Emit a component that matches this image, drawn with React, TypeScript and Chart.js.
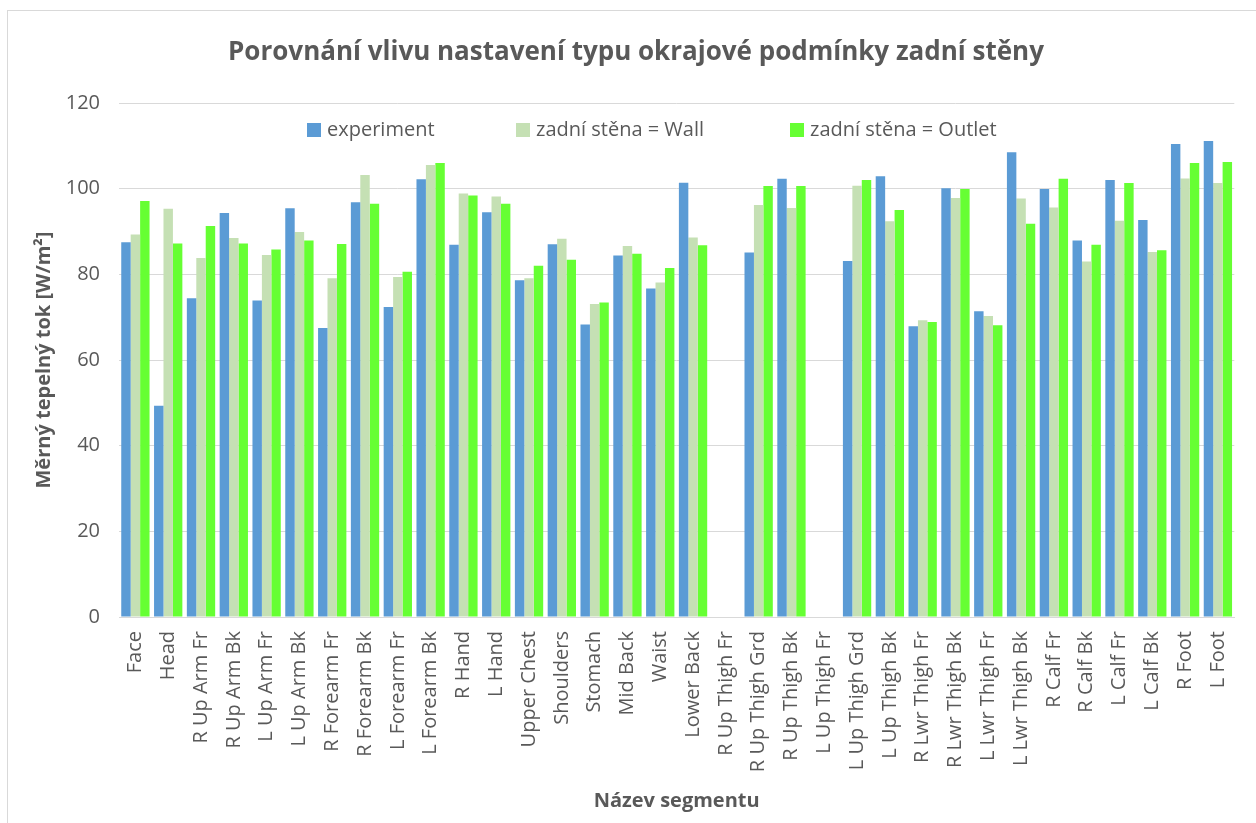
import React, { useEffect, useRef } from "react";
import { Chart, registerables } from "chart.js";

Chart.register(...registerables);

const categories = [
  "Face", "Head", "R Up Arm Fr", "R Up Arm Bk", "L Up Arm Fr", "L Up Arm Bk",
  "R Forearm Fr", "R Forearm Bk", "L Forearm Fr", "L Forearm Bk", "R Hand", "L Hand",
  "Upper Chest", "Shoulders", "Stomach", "Mid Back", "Waist", "Lower Back",
  "R Up Thigh Fr", "R Up Thigh Grd", "R Up Thigh Bk", "L Up Thigh Fr", "L Up Thigh Grd",
  "L Up Thigh Bk", "R Lwr Thigh Fr", "R Lwr Thigh Bk", "L Lwr Thigh Fr", "L Lwr Thigh Bk",
  "R Calf Fr", "R Calf Bk", "L Calf Fr", "L Calf Bk", "R Foot", "L Foot",
];

const experiment = [
  87.5, 49.3, 74.4, 94.3, 73.9, 95.4,
  67.5, 96.8, 72.4, 102.2, 86.9, 94.5,
  78.6, 87.0, 68.3, 84.4, 76.7, 101.4,
  null, 85.1, 102.3, null, 83.1,
  102.9, 67.9, 100.1, 71.4, 108.5,
  99.9, 87.9, 102.0, 92.7, 110.4, 111.1,
];

const wall = [
  89.3, 95.3, 83.8, 88.5, 84.5, 89.9,
  79.1, 103.2, 79.4, 105.5, 98.9, 98.2,
  79.1, 88.3, 73.1, 86.6, 78.1, 88.6,
  null, 96.2, 95.5, null, 100.7,
  92.4, 69.3, 97.8, 70.3, 97.7,
  95.6, 83.0, 92.5, 85.2, 102.4, 101.3,
];

const outlet = [
  97.1, 87.2, 91.3, 87.2, 85.8, 87.9,
  87.1, 96.5, 80.6, 106.0, 98.4, 96.5,
  82.0, 83.4, 73.4, 84.8, 81.5, 86.8,
  null, 100.6, 100.6, null, 102.0,
  95.0, 68.9, 99.9, 68.1, 91.8,
  102.3, 86.9, 101.3, 85.6, 106.0, 106.2,
];

const seriesLabels = ["experiment", "zadní stěna = Wall", "zadní stěna = Outlet"];
const titleText = "Porovnání vlivu nastavení typu okrajové podmínky zadní stěny";
const yTitle = "Měrný tepelný tok [W/m²]";
const xTitle = "Název segmentu";
const yMin = 0;
const yMax = 120;
const yStep = 20;

const FONT = "'Open Sans', 'DejaVu Sans', sans-serif";
const TEXT = "#595959";
const GRID = "#d9d9d9";

export default function App() {
  const ref = useRef<HTMLCanvasElement>(null);

  useEffect(() => {
    if (!ref.current) return;

    const legendX = [307, 516, 790];
    const insideLegend = {
      id: "insideLegend",
      afterDraw(chart: any) {
        const ctx = chart.ctx;
        ctx.save();
        // chart title
        ctx.font = `bold 26px ${FONT}`;
        ctx.fillStyle = TEXT;
        ctx.textAlign = "center";
        ctx.textBaseline = "middle";
        ctx.fillText(titleText, 636, 53);
        // legend inside plot area
        ctx.font = `20px ${FONT}`;
        ctx.textAlign = "left";
        const y = 130;
        chart.data.datasets.forEach((ds: any, i: number) => {
          const x = legendX[i];
          ctx.fillStyle = ds.backgroundColor;
          ctx.fillRect(x, y - 7, 14, 14);
          ctx.fillStyle = TEXT;
          ctx.fillText(ds.label, x + 20, y);
        });
        ctx.restore();
      },
    };

    const chart = new Chart(ref.current, {
      type: "bar",
      data: {
        labels: categories,
        datasets: [
          { label: seriesLabels[0], data: experiment, backgroundColor: "#5b9bd5" },
          { label: seriesLabels[1], data: wall, backgroundColor: "#c5e0b4" },
          { label: seriesLabels[2], data: outlet, backgroundColor: "#66ff33" },
        ],
      },
      options: {
        responsive: false,
        animation: false,
        devicePixelRatio: 1,
        layout: { padding: { top: 103, right: 7, bottom: 0, left: 0 } },
        datasets: {
          bar: { barPercentage: 1, categoryPercentage: 0.863, borderWidth: 0 },
        },
        plugins: {
          legend: { display: false },
          tooltip: { enabled: false },
          title: { display: false },
        },
        scales: {
          x: {
            afterFit(scale: any) {
              scale.height = 206;
            },
            grid: { display: true, drawOnChartArea: false, drawTicks: false },
            border: { display: true, color: GRID, width: 1 },
            ticks: {
              autoSkip: false,
              maxRotation: 90,
              minRotation: 90,
              padding: 14,
              color: TEXT,
              font: { family: FONT, size: 20 },
            },
            title: {
              display: true,
              text: xTitle,
              color: TEXT,
              font: { family: FONT, size: 20, weight: "bold" },
              padding: { top: 0, bottom: 10 },
            },
          },
          y: {
            min: yMin,
            max: yMax,
            afterFit(scale: any) {
              scale.width = 119;
            },
            ticks: {
              stepSize: yStep,
              padding: 19,
              color: TEXT,
              font: { family: FONT, size: 20 },
            },
            grid: { color: GRID, lineWidth: 1, drawTicks: false },
            border: { display: false },
            title: {
              display: true,
              text: yTitle,
              color: TEXT,
              font: { family: FONT, size: 20, weight: "bold" },
              padding: { top: 32, bottom: 0 },
            },
          },
        },
      },
      plugins: [insideLegend],
    } as any);

    return () => chart.destroy();
  }, []);

  return (
    <div
      style={{
        position: "fixed",
        left: 0,
        top: 0,
        width: 1256,
        height: 823,
        background: "#ffffff",
        overflow: "hidden",
      }}
    >
      <div
        style={{
          position: "absolute",
          left: 7,
          top: 10,
          width: 1300,
          height: 900,
          border: "1px solid #d9d9d9",
          boxSizing: "border-box",
        }}
      />
      <canvas
        ref={ref}
        width={1256}
        height={823}
        style={{ position: "absolute", left: 0, top: 0, width: 1256, height: 823 }}
      />
    </div>
  );
}
